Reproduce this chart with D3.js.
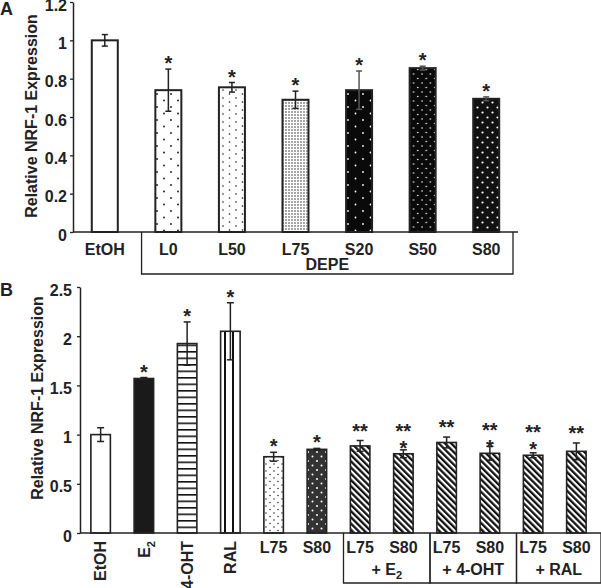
<!DOCTYPE html>
<html><head><meta charset="utf-8">
<script src="https://cdn.jsdelivr.net/npm/d3@7"></script>
<style>
body{margin:0;background:#fff;}
text{font-family:"Liberation Sans",Arial,sans-serif;font-weight:bold;fill:#222;}
</style></head>
<body><svg id="c" width="601" height="588"></svg>
<script>
// ---- Panel A data ----
const catsA = ["EtOH","L0","L50","L75","S20","S50","S80"];
const valsA = [1.0,0.74,0.755,0.69,0.74,0.855,0.695];
const errA  = [0.03,0.11,0.025,0.045,0.10,0.01,0.01];
const sigA  = ["","*","*","*","*","*","*"];
const patA  = ["white","dotsL0","dotsL50","dotsL75","dotsS20","dotsS50","dotsS80"];
const ticksA = [0,0.2,0.4,0.6,0.8,1,1.2];
const groupA = "DEPE";

// ---- Panel B data ----
const catsB = ["EtOH","E2","4-OHT","RAL","L75","S80","L75+E2","S80+E2","L75+4-OHT","S80+4-OHT","L75+RAL","S80+RAL"];
const labelB = ["EtOH","E2","4-OHT","RAL","L75","S80","L75","S80","L75","S80","L75","S80"];
const rotatedB = [true,true,true,true,false,false,false,false,false,false,false,false];
const valsB = [1.0,1.57,1.925,2.05,0.775,0.85,0.885,0.805,0.92,0.81,0.79,0.83];
const errB  = [0.07,0.01,0.22,0.29,0.045,0.01,0.055,0.04,0.055,0.07,0.025,0.085];
const sigB  = ["","*","*","*","*","*","","*","","*","*",""];
const sig2B = ["","","","","","","**","**","**","**","**","**"];
const patB  = ["white","black","hlines","vlines","dotsBL75","dotsBS80","hatch","hatch","hatch","hatch","hatch","hatch"];
const ticksB = [0,0.5,1,1.5,2,2.5];
const groupNamesB = ["E2","4-OHT","RAL"];
const groupStartB = [6,8,10];

const svg = d3.select("#c");
const defs = svg.append("defs");

function dotPattern(id, w, h, pts, r, bg, fg){
  const p = defs.append("pattern").attr("id",id).attr("patternUnits","userSpaceOnUse")
    .attr("width",w).attr("height",h);
  p.append("rect").attr("width",w).attr("height",h).attr("fill",bg);
  pts.forEach(q=>p.append("circle").attr("cx",q[0]).attr("cy",q[1]).attr("r",r).attr("fill",fg));
}
dotPattern("dotsL0",14,13,[[3,3],[10,9.5]],0.9,"#fff","#111");
dotPattern("dotsL50",13,8,[[2,2],[8.5,6]],0.8,"#fff","#111");
dotPattern("dotsL75",3,3,[[1,1]],0.75,"#fff","#222");
dotPattern("dotsS20",15,13,[[3,3],[10.5,9.5]],0.9,"#0a0a0a","#fff");
dotPattern("dotsS50",8.4,9,[[2,2],[6.2,6.5]],0.8,"#0a0a0a","#fff");
dotPattern("dotsS80",10,10,[[2.5,2.5],[7.5,7.5]],1.1,"#111","#fff");
dotPattern("dotsBL75",8,7,[[2,2],[6,5.5]],0.75,"#fff","#222");
dotPattern("dotsBS80",9,9,[[2,2],[6.5,6.5]],1.0,"#333","#fff");
{
  const p = defs.append("pattern").attr("id","hlines").attr("patternUnits","userSpaceOnUse").attr("width",10).attr("height",6.5);
  p.append("rect").attr("width",10).attr("height",6.5).attr("fill","#fff");
  p.append("rect").attr("y",0).attr("width",10).attr("height",1.6).attr("fill","#111");
}
{
  const p = defs.append("pattern").attr("id","vlines").attr("patternUnits","userSpaceOnUse").attr("width",8).attr("height",10);
  p.append("rect").attr("width",8).attr("height",10).attr("fill","#fff");
  p.append("rect").attr("x",0).attr("width",2).attr("height",10).attr("fill","#111");
}
{
  const p = defs.append("pattern").attr("id","hatch").attr("patternUnits","userSpaceOnUse")
    .attr("width",4.4).attr("height",10).attr("patternTransform","rotate(-45)");
  p.append("rect").attr("width",4.4).attr("height",10).attr("fill","#fff");
  p.append("rect").attr("width",2.3).attr("height",10).attr("fill","#111");
}
defs.append("pattern").attr("id","white").attr("patternUnits","userSpaceOnUse").attr("width",4).attr("height",4)
  .append("rect").attr("width",4).attr("height",4).attr("fill","#fff");
defs.append("pattern").attr("id","black").attr("patternUnits","userSpaceOnUse").attr("width",4).attr("height",4)
  .append("rect").attr("width",4).attr("height",4).attr("fill","#1a1a1a");

function fmt(v){ return d3.format("~g")(v); }

function drawAxis(y, ticks, x0, labelPad){
  const g = svg.append("g").attr("transform",`translate(${x0},0)`)
    .call(d3.axisLeft(y).tickValues(ticks).tickFormat(fmt).tickSize(3).tickSizeOuter(0).tickPadding(labelPad));
  g.select(".domain").attr("stroke","#222").attr("stroke-width",1.5);
  g.selectAll(".tick line").attr("stroke","#222").attr("stroke-width",1.3);
  g.selectAll(".tick text").attr("font-size",16).attr("font-family","Liberation Sans, Arial").attr("font-weight","bold").attr("fill","#222").attr("dy","0.5em");
  return g;
}

// ================= Panel A =================
const yA = d3.scaleLinear().domain([0,1.2]).range([232,2]);
const xA = d3.scaleBand().domain(catsA).range([73,518]).padding(0);
const bwA = 26;
drawAxis(yA, ticksA, 73, 3);
svg.append("text").attr("transform","translate(37,116) rotate(-90)").attr("text-anchor","middle")
  .attr("font-size",16).text("Relative NRF-1 Expression");
svg.append("text").attr("x",0).attr("y",15).attr("font-size",18).text("A");

catsA.forEach((c,i)=>{
  const cx = xA(c)+xA.bandwidth()/2;
  svg.append("rect").attr("x",cx-bwA/2).attr("y",yA(valsA[i])).attr("width",bwA)
    .attr("height",yA(0)-yA(valsA[i])).attr("fill",`url(#${patA[i]})`).attr("stroke","#222").attr("stroke-width",2);
});
catsA.forEach((c,i)=>{
  const cx = xA(c)+xA.bandwidth()/2;
  const t = yA(valsA[i]+errA[i]), b = yA(valsA[i]-errA[i]);
  const col = (patA[i].startsWith("dotsS")) ? "#555" : "#222";
  svg.append("line").attr("x1",cx).attr("x2",cx).attr("y1",t).attr("y2",b).attr("stroke",col).attr("stroke-width",1.5);
  [t,b].forEach(yy=>svg.append("line").attr("x1",cx-3).attr("x2",cx+3).attr("y1",yy).attr("y2",yy).attr("stroke",col).attr("stroke-width",1.5));
  if(sigA[i]) svg.append("text").attr("x",cx).attr("y",t+1).attr("text-anchor","middle").attr("font-size",20).text(sigA[i]);
  svg.append("text").attr("x",cx).attr("y",255).attr("text-anchor","middle").attr("font-size",16).text(c);
});
svg.append("line").attr("x1",73).attr("x2",518).attr("y1",yA(0)).attr("y2",yA(0)).attr("stroke","#222").attr("stroke-width",1.5);
{
  const bl = xA(catsA[1]) + 5, br = xA.range()[1] - 5, bb = 274;
  svg.append("path").attr("d",`M${bl},${yA(0)}V${bb}H${br}V${yA(0)}`).attr("fill","none").attr("stroke","#222").attr("stroke-width",1.3);
  svg.append("text").attr("x",(bl+br)/2).attr("y",270).attr("text-anchor","middle").attr("font-size",16).text(groupA);
}

// ================= Panel B =================
const yB = d3.scaleLinear().domain([0,2.5]).range([533,287]);
const xB = d3.scaleBand().domain(catsB).range([79,598]).padding(0);
const bwB = 19.5;
drawAxis(yB, ticksB, 80, 5);
svg.append("text").attr("transform","translate(43,398) rotate(-90)").attr("text-anchor","middle")
  .attr("font-size",16).text("Relative NRF-1 Expression");
svg.append("text").attr("x",0).attr("y",296).attr("font-size",18).text("B");

catsB.forEach((c,i)=>{
  const cx = xB(c)+xB.bandwidth()/2;
  svg.append("rect").attr("x",cx-bwB/2).attr("y",yB(valsB[i])).attr("width",bwB)
    .attr("height",yB(0)-yB(valsB[i])).attr("fill",`url(#${patB[i]})`).attr("stroke","#222").attr("stroke-width",1.6);
});
catsB.forEach((c,i)=>{
  const cx = xB(c)+xB.bandwidth()/2;
  const t = yB(valsB[i]+errB[i]), b = yB(valsB[i]-errB[i]);
  svg.append("line").attr("x1",cx).attr("x2",cx).attr("y1",t).attr("y2",b).attr("stroke","#222").attr("stroke-width",1.5);
  [t,b].forEach(yy=>svg.append("line").attr("x1",cx-3.5).attr("x2",cx+3.5).attr("y1",yy).attr("y2",yy).attr("stroke","#222").attr("stroke-width",1.5));
  const top = yB(valsB[i]);
  if(sigB[i] && sig2B[i]){
    svg.append("text").attr("x",cx).attr("y",top+1).attr("text-anchor","middle").attr("font-size",20).text(sigB[i]);
    svg.append("text").attr("x",cx).attr("y",top-16).attr("text-anchor","middle").attr("font-size",20).text(sig2B[i]);
  } else if(sig2B[i]){
    svg.append("text").attr("x",cx).attr("y",t-3).attr("text-anchor","middle").attr("font-size",20).text(sig2B[i]);
  } else if(sigB[i]){
    svg.append("text").attr("x",cx).attr("y",t+1).attr("text-anchor","middle").attr("font-size",20).text(sigB[i]);
  }
  if(rotatedB[i]){
    const tx = svg.append("text").attr("transform",`translate(${cx},541) rotate(-90)`)
      .attr("text-anchor","end").attr("dy","0.36em").attr("font-size",16);
    if(labelB[i]==="E2"){
      tx.append("tspan").text("E");
      tx.append("tspan").attr("font-size",11).attr("dy","0.45em").text("2");
    } else tx.text(labelB[i]);
  } else {
    svg.append("text").attr("x",cx).attr("y",553).attr("text-anchor","middle").attr("font-size",16).text(labelB[i]);
  }
});
svg.append("line").attr("x1",80).attr("x2",601).attr("y1",yB(0)).attr("y2",yB(0)).attr("stroke","#222").attr("stroke-width",1.5);
groupStartB.forEach((s,k)=>{
  const bl = xB(catsB[s]) + 5;
  const br = (s+2 < catsB.length) ? xB(catsB[s+2]) + 5 : 601;
  svg.append("path").attr("d",`M${bl},${yB(0)}V583H${br}V${yB(0)}`).attr("fill","none").attr("stroke","#222").attr("stroke-width",1.3);
  const t = svg.append("text").attr("x",(bl+br)/2).attr("y",575).attr("text-anchor","middle").attr("font-size",16);
  const nm = groupNamesB[k];
  if(nm==="E2"){
    t.append("tspan").text("+ E");
    t.append("tspan").attr("font-size",11).attr("dy","0.35em").text("2");
  } else t.text("+ " + nm);
});
</script></body></html>
